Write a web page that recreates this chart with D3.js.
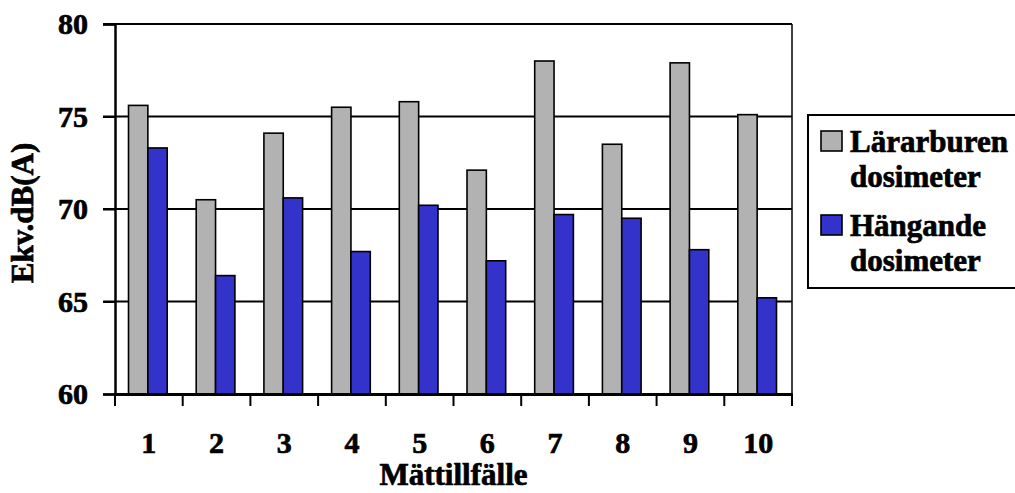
<!DOCTYPE html>
<html>
<head>
<meta charset="UTF-8">
<script src="https://cdn.jsdelivr.net/npm/d3@7"></script>
<style>
  body { margin: 0; background: #fff; }
  svg text { font-family: "Liberation Serif", "Times New Roman", serif; font-weight: bold; fill: #000; stroke: #000; stroke-width: 0.7px; }
</style>
</head>
<body>
<div id="chart"></div>
<script>
// data
const categories = ["1", "2", "3", "4", "5", "6", "7", "8", "9", "10"];
const seriesNames = ["Lärarburen dosimeter", "Hängande dosimeter"];
const lararburen = [75.6, 70.5, 74.1, 75.5, 75.8, 72.1, 78.0, 73.5, 77.9, 75.1];
const hangande = [73.3, 66.4, 70.6, 67.7, 70.2, 67.2, 69.7, 69.5, 67.8, 65.2];
const yTicks = [60, 65, 70, 75, 80];
const colors = ["#b2b2b2", "#3333cc"];

const W = 1015, H = 493;
const plot = {left: 115, right: 792, top: 24, bottom: 394};

const svg = d3.select("#chart").append("svg")
  .attr("width", W)
  .attr("height", H);

const x = d3.scaleBand()
  .domain(categories)
  .range([plot.left, plot.right]);

const y = d3.scaleLinear()
  .domain([60, 80])
  .range([plot.bottom, plot.top]);

// gridlines (these also carry the left ticks)
svg.append("g")
  .selectAll("line")
  .data(yTicks.filter(d => d > 60))
  .join("line")
    .attr("x1", plot.left - 12)
    .attr("x2", plot.right)
    .attr("y1", d => y(d))
    .attr("y2", d => y(d))
    .attr("stroke", "#000")
    .attr("stroke-width", 2);

// right border
svg.append("line")
  .attr("x1", plot.right).attr("x2", plot.right)
  .attr("y1", plot.top).attr("y2", plot.bottom)
  .attr("stroke", "#000").attr("stroke-width", 1.5);

// bars
const bw = x.bandwidth() / 3.5;
const rows = categories.map((c, i) => ({c: c, vals: [lararburen[i], hangande[i]]}));

const groups = svg.append("g")
  .selectAll("g")
  .data(rows)
  .join("g")
    .attr("transform", d => `translate(${x(d.c) + x.bandwidth() / 2 - bw - 1},0)`);

groups.selectAll("rect")
  .data(d => d.vals.map((v, k) => ({v: v, k: k})))
  .join("rect")
    .attr("x", d => d.k * bw)
    .attr("y", d => y(d.v))
    .attr("width", bw)
    .attr("height", d => y(60) - y(d.v))
    .attr("fill", d => colors[d.k])
    .attr("stroke", "#000")
    .attr("stroke-width", 1.6);

// y axis
const yAxis = svg.append("g")
  .attr("transform", `translate(${plot.left},0)`)
  .call(d3.axisLeft(y).tickValues(yTicks).tickSize(12).tickPadding(15));
yAxis.select(".domain").attr("stroke-width", 2.5);
yAxis.selectAll(".tick line").attr("stroke-width", 2);
yAxis.selectAll("text")
  .attr("font-size", 30)
  .attr("dy", "0.33em");

// x axis, ticks at category boundaries
const xAxis = svg.append("g")
  .attr("transform", `translate(0,${plot.bottom})`)
  .call(d3.axisBottom(x).tickSize(0).tickPadding(38));
xAxis.select(".domain").attr("stroke-width", 3);
xAxis.selectAll("text")
  .attr("font-size", 30);

const bounds = categories.map(c => x(c)).concat([plot.right]);
svg.append("g")
  .selectAll("line")
  .data(bounds)
  .join("line")
    .attr("x1", d => d).attr("x2", d => d)
    .attr("y1", plot.bottom).attr("y2", plot.bottom + 12)
    .attr("stroke", "#000").attr("stroke-width", 2);

// axis titles
svg.append("text")
  .attr("x", (plot.left + plot.right) / 2)
  .attr("y", 485)
  .attr("text-anchor", "middle")
  .attr("font-size", 31)
  .text("Mättillfälle");

svg.append("text")
  .attr("transform", "translate(33,213) rotate(-90)")
  .attr("text-anchor", "middle")
  .attr("font-size", 31)
  .text("Ekv.dB(A)");

// legend
const legend = svg.append("g");
legend.append("rect")
  .attr("x", 808).attr("y", 115)
  .attr("width", 215).attr("height", 173)
  .attr("fill", "#fff")
  .attr("stroke", "#000").attr("stroke-width", 2);

const legendY = [131, 215];
seriesNames.forEach((name, i) => {
  legend.append("rect")
    .attr("x", 821).attr("y", legendY[i])
    .attr("width", 21).attr("height", 20)
    .attr("fill", colors[i])
    .attr("stroke", "#000").attr("stroke-width", 1.6);
  const words = name.split(" ");
  const t = legend.append("text")
    .attr("x", 850)
    .attr("y", legendY[i] + 21)
    .attr("font-size", 31);
  words.forEach((w, j) => {
    t.append("tspan")
      .attr("x", 850)
      .attr("dy", j === 0 ? 0 : 35)
      .text(w);
  });
});
</script>
</body>
</html>
